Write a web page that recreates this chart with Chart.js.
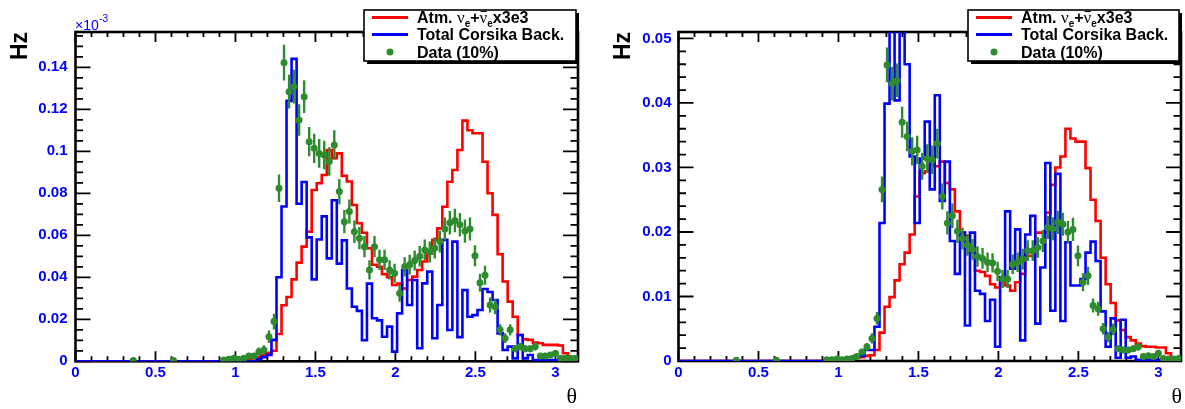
<!DOCTYPE html>
<html>
<head>
<meta charset="utf-8">
<script src="https://cdn.jsdelivr.net/npm/chart.js@4.4.1/dist/chart.umd.min.js"></script>
<style>
  html, body { margin: 0; padding: 0; background: #fff; }
  #wrap { position: relative; width: 1185px; height: 409px; }
  canvas { position: absolute; top: 0; }
</style>
</head>
<body>
<div id="wrap">
  <canvas id="left" width="600" height="409" style="left:0"></canvas>
  <canvas id="right" width="585" height="409" style="left:600px"></canvas>
</div>
<script>
// 100 bins in theta from 0 to pi
const NBINS = 100;
const thetaTicks = [0, 0.5, 1, 1.5, 2, 2.5, 3];
const leftTicks = [0, 0.02, 0.04, 0.06, 0.08, 0.1, 0.12, 0.14];   // x 10^-3 Hz
const rightTicks = [0, 0.01, 0.02, 0.03, 0.04, 0.05];              // Hz

// Left panel, values in units of 10^-3 Hz
const leftAtm = [
  0, 0, 0, 0, 0, 0, 0, 0, 0, 0,
  0, 0, 0, 0, 0, 0, 0, 0, 0, 0,
  0, 0, 0, 0, 0, 0, 0, 0, 0, 0,
  0.0003, 0.0005, 0.0005, 0.0008, 0.001, 0.0015, 0.002, 0.003, 0.004, 0.005,
  0.013, 0.0267, 0.0306, 0.039, 0.047, 0.0546, 0.0617, 0.0816, 0.0848, 0.0887,
  0.1006, 0.0967, 0.099, 0.0883, 0.0856, 0.0744, 0.0657, 0.0612, 0.0538, 0.046,
  0.045, 0.0415, 0.040, 0.0363, 0.037, 0.0347, 0.0387, 0.0403, 0.0435, 0.0475,
  0.0514, 0.0578, 0.0633, 0.0736, 0.0855, 0.0911, 0.1006, 0.1146, 0.110, 0.1086,
  0.1086, 0.095, 0.080, 0.0697, 0.051, 0.038, 0.0284, 0.0212, 0.0125, 0.0105,
  0.0102, 0.0089, 0.0086, 0.0078, 0.0078, 0.0078, 0.0075, 0.0038, 0.0014, 0.0005
];
const leftBack = [
  0, 0, 0, 0, 0, 0, 0, 0, 0, 0,
  0, 0, 0, 0, 0, 0, 0, 0, 0, 0,
  0, 0, 0, 0, 0, 0, 0, 0, 0, 0,
  0, 0, 0, 0, 0, 0, 0.001, 0.002, 0.003, 0.0102,
  0.040, 0.0737, 0.124, 0.144, 0.075, 0.0854, 0.059, 0.039, 0.058, 0.069,
  0.049, 0.0767, 0.0465, 0.0576, 0.0347, 0.026, 0.024, 0.010, 0.037, 0.0205,
  0.0195, 0.0117, 0.0165, 0.0046, 0.0228, 0.0435, 0.0268, 0.0387, 0.0062, 0.0371,
  0.0427, 0.011, 0.0268, 0.0578, 0.0149, 0.057, 0.0115, 0.0339, 0.0212, 0.022,
  0.0244, 0.0344, 0.033, 0.0292, 0.0133, 0.0054, 0.007, 0.0014, 0.0125, 0.0014,
  0.003, 0.0006, 0.0006, 0.0006, 0.0006, 0.0006, 0.0006, 0.0006, 0.0006, 0.0006
];
const leftData = [
  null, null, null, null, null, null, null, null, null, null,
  null, 0.0004, null, null, null, null, null, null, null, 0.0004,
  null, null, null, null, null, null, null, null, null, 0.0006,
  0.001, 0.0015, 0.001, 0.0015, 0.0025, 0.0025, 0.0046, 0.0054, 0.0117, 0.0189,
  0.0824, 0.1422, 0.1284, 0.1308, 0.1149, 0.126, 0.1046, 0.1014, 0.099, 0.0982,
  0.0951, 0.103, 0.0808, 0.0665, 0.0713, 0.0617, 0.0586, 0.0546, 0.0435, 0.0546,
  0.0483, 0.0483, 0.0435, 0.0419, 0.0324, 0.045, 0.046, 0.048, 0.050, 0.053,
  0.052, 0.054, 0.057, 0.063, 0.066, 0.067, 0.065, 0.062, 0.063, 0.0503,
  0.0374, 0.041, 0.0268, 0.026, 0.015, 0.011, 0.015, 0.006, 0.007, 0.006,
  0.006, 0.007, 0.0025, 0.0025, 0.003, 0.0038, 0.0014, 0.0014, 0.0014, 0.0014
];
const leftErr = [
  null, null, null, null, null, null, null, null, null, null,
  null, 0.0006, null, null, null, null, null, null, null, 0.0006,
  null, null, null, null, null, null, null, null, null, 0.0008,
  0.001, 0.0012, 0.001, 0.0012, 0.0015, 0.0015, 0.002, 0.0022, 0.003, 0.0038,
  0.0065, 0.0085, 0.008, 0.008, 0.0075, 0.0078, 0.007, 0.007, 0.0068, 0.0068,
  0.0068, 0.007, 0.006, 0.0055, 0.0058, 0.0054, 0.0053, 0.0051, 0.0046, 0.0051,
  0.0048, 0.0048, 0.0046, 0.0045, 0.004, 0.0046, 0.0047, 0.0048, 0.0049, 0.005,
  0.005, 0.0051, 0.0052, 0.0055, 0.0056, 0.0056, 0.0056, 0.0055, 0.0055, 0.005,
  0.0043, 0.0045, 0.0036, 0.0036, 0.0027, 0.0023, 0.0027, 0.0017, 0.0018, 0.0017,
  0.0017, 0.0018, 0.0011, 0.0011, 0.0012, 0.0013, 0.0008, 0.0008, 0.0008, 0.0008
];

// Right panel, values in Hz
const rightAtm = [
  0, 0, 0, 0, 0, 0, 0, 0, 0, 0,
  0, 0, 0, 0, 0, 0, 0, 0, 0, 0,
  0, 0, 0, 0, 0, 0, 0, 0, 0, 0,
  0.0001, 0.0002, 0.0002, 0.0003, 0.0004, 0.0005, 0.0006, 0.0008, 0.0009, 0.0017,
  0.0044, 0.0084, 0.0099, 0.0125, 0.015, 0.0168, 0.0196, 0.0255, 0.0291, 0.0294,
  0.0304, 0.0302, 0.0309, 0.0276, 0.0266, 0.0232, 0.0199, 0.0194, 0.0168, 0.014,
  0.0138, 0.0132, 0.0119, 0.0114, 0.0122, 0.0117, 0.0109, 0.0122, 0.0135, 0.0163,
  0.0163, 0.0199, 0.0199, 0.023, 0.0273, 0.030, 0.0317, 0.036, 0.0345, 0.034,
  0.034, 0.0299, 0.025, 0.0217, 0.016, 0.0119, 0.009, 0.0063, 0.0048, 0.0037,
  0.0032, 0.0027, 0.0023, 0.0022, 0.0022, 0.0021, 0.0021, 0.0012, 0.0004, 0.0002
];
const rightBack = [
  0, 0, 0, 0, 0, 0, 0, 0, 0, 0,
  0, 0, 0, 0, 0, 0, 0, 0, 0, 0,
  0, 0, 0, 0, 0, 0, 0, 0, 0, 0,
  0, 0, 0, 0, 0.0003, 0.0008, 0.0008, 0.0017, 0.0017, 0.0053,
  0.0214, 0.0399, 0.056, 0.0404, 0.054, 0.046, 0.0317, 0.0214, 0.0314, 0.0371,
  0.0266, 0.0412, 0.0248, 0.0309, 0.0186, 0.0135, 0.0199, 0.0055, 0.0199, 0.0109,
  0.0104, 0.0062, 0.0095, 0.0022, 0.013, 0.0232, 0.0143, 0.0204, 0.0032, 0.0196,
  0.0225, 0.0058, 0.0145, 0.0307, 0.0078, 0.029, 0.0062, 0.0184, 0.0117, 0.0117,
  0.0127, 0.0168, 0.0185, 0.0155, 0.0077, 0.0022, 0.0066, 0.0005, 0.0064, 0.0005,
  0.0007, 0.0002, 0.0002, 0.0002, 0.0002, 0.0002, 0.0002, 0.0002, 0.0002, 0.0002
];
const rightData = [
  null, null, null, null, null, null, null, null, null, null,
  null, 0.0001, null, null, null, null, null, null, null, 0.0001,
  null, null, null, null, null, null, null, null, null, 0.0002,
  0.0002, 0.0003, 0.0002, 0.0003, 0.0004, 0.0007, 0.0014, 0.0022, 0.0035, 0.0066,
  0.0266, 0.0459, 0.043, 0.0435, 0.037, 0.0348, 0.0325, 0.0327, 0.0302, 0.0314,
  0.0312, 0.0337, 0.0255, 0.0214, 0.0225, 0.0201, 0.019, 0.018, 0.0173, 0.0162,
  0.0159, 0.0153, 0.0152, 0.0139, 0.0127, 0.0127, 0.015, 0.0153, 0.0158, 0.0171,
  0.0171, 0.0176, 0.0186, 0.0207, 0.0205, 0.0215, 0.0212, 0.020, 0.0204, 0.0163,
  0.0122, 0.0132, 0.0086, 0.0081, 0.005, 0.0037, 0.0049, 0.0019, 0.0017, 0.0017,
  0.0019, 0.0022, 0.0007, 0.0008, 0.0007, 0.0012, 0.0004, 0.0003, 0.0003, 0.0004
];
const rightErr = [
  null, null, null, null, null, null, null, null, null, null,
  null, 0.0002, null, null, null, null, null, null, null, 0.0002,
  null, null, null, null, null, null, null, null, null, 0.0002,
  0.0002, 0.0003, 0.0002, 0.0003, 0.0003, 0.0004, 0.0005, 0.0006, 0.0008, 0.001,
  0.002, 0.0027, 0.0026, 0.0026, 0.0024, 0.0023, 0.0022, 0.0022, 0.0021, 0.0022,
  0.0022, 0.0023, 0.002, 0.0018, 0.0019, 0.0018, 0.0017, 0.0017, 0.0016, 0.0016,
  0.0016, 0.0015, 0.0015, 0.0015, 0.0014, 0.0014, 0.0015, 0.0015, 0.0016, 0.0016,
  0.0016, 0.0016, 0.0017, 0.0018, 0.0018, 0.0018, 0.0018, 0.0017, 0.0018, 0.0016,
  0.0014, 0.0014, 0.0011, 0.0011, 0.0009, 0.0008, 0.0009, 0.0005, 0.0005, 0.0005,
  0.0005, 0.0006, 0.0003, 0.0003, 0.0003, 0.0004, 0.0002, 0.0002, 0.0002, 0.0002
];

const legendTexts = ['Total Corsika Back.', 'Data (10%)'];

const RED = '#ff0000', BLUE = '#0000ff', GREEN = '#2e8b2e';
const SANS = "'Liberation Sans', Arial, Helvetica, sans-serif";
const SERIF = "'Liberation Serif', 'Times New Roman', serif";

const edges = Array.from({ length: NBINS + 1 }, (_, i) => i * Math.PI / NBINS);
const stepPoints = (vals) => edges.map((x, i) => ({ x, y: vals[Math.min(i, NBINS - 1)] }));
const dataPoints = (vals, errs) => vals
  .map((y, i) => ({ x: (edges[i] + edges[i + 1]) / 2, y, e: errs[i] }))
  .filter(p => p.y !== null);

const fmt = (v) => String(+v.toFixed(3));

// ROOT-like frame with ticks on all four sides
const rootFrame = {
  id: 'rootFrame',
  beforeDatasetsDraw(chart, args, opts) {
    const { ctx, chartArea: a, scales: { x, y } } = chart;
    ctx.save();
    ctx.strokeStyle = '#000';
    ctx.lineWidth = 1.8;
    ctx.beginPath();
    const nx = Math.floor(Math.PI / 0.1 + 1e-9);
    for (let k = 0; k <= nx; k++) {
      const px = x.getPixelForValue(k * 0.1);
      const len = k % 5 === 0 ? 10 : 5;
      ctx.moveTo(px, a.bottom); ctx.lineTo(px, a.bottom - len);
      ctx.moveTo(px, a.top); ctx.lineTo(px, a.top + len);
    }
    const ny = Math.floor(y.max / opts.yMinor + 1e-9);
    for (let k = 0; k <= ny; k++) {
      const py = y.getPixelForValue(k * opts.yMinor);
      const len = k % opts.perMajor === 0 ? 15 : 7.5;
      ctx.moveTo(a.left, py); ctx.lineTo(a.left + len, py);
      ctx.moveTo(a.right, py); ctx.lineTo(a.right - len, py);
    }
    ctx.stroke();
    ctx.lineWidth = 2.6;
    ctx.strokeRect(a.left, a.top, a.right - a.left, a.bottom - a.top);
    ctx.restore();
  }
};

// vertical error bars for the data points
const errorBars = {
  id: 'errorBars',
  afterDatasetsDraw(chart) {
    const { ctx, chartArea: a, scales: { x, y } } = chart;
    chart.data.datasets.forEach(ds => {
      if (!ds.withErrors) return;
      ctx.save();
      ctx.beginPath();
      ctx.rect(a.left, a.top, a.right - a.left, a.bottom - a.top);
      ctx.clip();
      ctx.strokeStyle = ds.borderColor;
      ctx.lineWidth = 2.4;
      ctx.beginPath();
      ds.data.forEach(p => {
        const px = x.getPixelForValue(p.x);
        ctx.moveTo(px, y.getPixelForValue(p.y - p.e));
        ctx.lineTo(px, y.getPixelForValue(p.y + p.e));
      });
      ctx.stroke();
      ctx.restore();
    });
  }
};

// legend box with shadow, axis titles, exponent
const rootLegend = {
  id: 'rootLegend',
  afterDraw(chart, args, o) {
    const { ctx } = chart;
    const b = o.box;
    ctx.save();
    ctx.fillStyle = '#000';
    ctx.fillRect(b.x + 3, b.y + 3, b.w, b.h);
    ctx.fillStyle = '#fff';
    ctx.fillRect(b.x, b.y, b.w, b.h);
    ctx.strokeStyle = '#000';
    ctx.lineWidth = 1.6;
    ctx.strokeRect(b.x, b.y, b.w, b.h);

    const rows = [b.y + 7.5, b.y + 24.5, b.y + 42];
    const tx0 = b.x + 53;
    ctx.lineWidth = 2.8;
    ctx.strokeStyle = RED;
    ctx.beginPath(); ctx.moveTo(b.x + 8, rows[0]); ctx.lineTo(b.x + 44, rows[0]); ctx.stroke();
    ctx.strokeStyle = BLUE;
    ctx.beginPath(); ctx.moveTo(b.x + 8, rows[1]); ctx.lineTo(b.x + 44, rows[1]); ctx.stroke();
    ctx.fillStyle = GREEN;
    ctx.beginPath(); ctx.arc(b.x + 26, rows[2], 3.5, 0, Math.PI * 2); ctx.fill();

    ctx.fillStyle = '#000';
    ctx.textBaseline = 'alphabetic';
    const big = `bold 16px ${SANS}`, sub = `bold 10px ${SANS}`, nu = `17px ${SERIF}`;
    let tx = tx0, base = rows[0] + 5.5;
    const put = (s, font, dy = 0) => { ctx.font = font; ctx.fillText(s, tx, base + dy); const w = ctx.measureText(s).width; tx += w; return w; };
    put('Atm. ', big);
    put('\u03bd', nu);
    put('e', sub, 3.5);
    put('+', big);
    const nx = tx;
    const nw = put('\u03bd', nu);
    ctx.lineWidth = 1;
    ctx.strokeStyle = '#000';
    ctx.beginPath(); ctx.moveTo(nx + 1, base - 11.5); ctx.lineTo(nx + nw - 0.5, base - 11.5); ctx.stroke();
    put('e', sub, 3.5);
    put('x3e3', big);
    ctx.font = big;
    ctx.fillText(legendTexts[0], tx0, rows[1] + 5.5);
    ctx.fillText(legendTexts[1], tx0, rows[2] + 5.5);

    // "Hz" rotated
    ctx.save();
    ctx.translate(o.hz.x, o.hz.y);
    ctx.rotate(-Math.PI / 2);
    ctx.font = `bold 23px ${SANS}`;
    ctx.textAlign = 'center';
    ctx.fillText('Hz', 0, 0);
    ctx.restore();

    // theta
    ctx.font = `22px ${SERIF}`;
    ctx.textAlign = 'right';
    ctx.fillText('\u03b8', o.theta.x, o.theta.y);

    if (o.exponent) {
      ctx.textAlign = 'left';
      ctx.fillStyle = BLUE;
      ctx.font = `14px ${SANS}`;
      ctx.fillText('\u00d710', o.exponent.x, o.exponent.y);
      const w = ctx.measureText('\u00d710').width;
      ctx.font = `10px ${SANS}`;
      ctx.fillText('-3', o.exponent.x + w + 0.5, o.exponent.y - 8);
    }
    ctx.restore();
  }
};

function makeChart(id, cfg) {
  const tickFont = { family: SANS, size: 15, weight: 'bold' };
  return new Chart(document.getElementById(id), {
    type: 'line',
    data: {
      datasets: [
        { data: dataPoints(cfg.data, cfg.err), showLine: false, pointRadius: 3.5, pointHoverRadius: 3.5,
          pointBackgroundColor: GREEN, pointBorderWidth: 0, borderColor: GREEN, withErrors: true, order: 0 },
        { data: stepPoints(cfg.back), borderColor: BLUE, borderWidth: 2.6, pointRadius: 0, stepped: 'before', fill: false, order: 1 },
        { data: stepPoints(cfg.atm), borderColor: RED, borderWidth: 2.6, pointRadius: 0, stepped: 'before', fill: false, order: 2 }
      ]
    },
    options: {
      responsive: false,
      animation: false,
      events: [],
      layout: { padding: { left: 0, right: cfg.padRight, top: 32, bottom: 0 } },
      scales: {
        x: {
          type: 'linear', min: 0, max: Math.PI,
          grid: { display: false, drawTicks: false },
          border: { display: false },
          afterBuildTicks: (s) => { s.ticks = thetaTicks.map(v => ({ value: v })); },
          afterFit: (s) => { s.height = cfg.xHeight; },
          ticks: { color: BLUE, font: tickFont, padding: 3, autoSkip: false, maxRotation: 0, callback: fmt }
        },
        y: {
          type: 'linear', min: 0, max: cfg.yMax,
          grid: { display: false, drawTicks: false },
          border: { display: false },
          afterBuildTicks: (s) => { s.ticks = cfg.yTicks.map(v => ({ value: v })); },
          afterFit: (s) => { s.width = cfg.yWidth; },
          ticks: { color: BLUE, font: tickFont, padding: cfg.yPad, callback: fmt }
        }
      },
      plugins: {
        legend: { display: false },
        tooltip: { enabled: false },
        rootFrame: { yMinor: cfg.yMinor, perMajor: cfg.perMajor },
        rootLegend: cfg.legend
      }
    },
    plugins: [rootFrame, errorBars, rootLegend]
  });
}

makeChart('left', {
  atm: leftAtm, back: leftBack, data: leftData, err: leftErr,
  yMax: 0.1568, yTicks: leftTicks, yMinor: 0.005, perMajor: 4,
  yWidth: 75.5, yPad: 8, padRight: 22, xHeight: 47.7,
  legend: { box: { x: 364, y: 10, w: 212, h: 51 }, hz: { x: 26.5, y: 46 }, theta: { x: 577, y: 403 }, exponent: { x: 75, y: 30 } }
});

makeChart('right', {
  atm: rightAtm, back: rightBack, data: rightData, err: rightErr,
  yMax: 0.051, yTicks: rightTicks, yMinor: 0.002, perMajor: 5,
  yWidth: 78.5, yPad: 7, padRight: 4, xHeight: 48,
  legend: { box: { x: 368, y: 10, w: 211, h: 51 }, hz: { x: 29.5, y: 46 }, theta: { x: 582, y: 403 } }
});
</script>
</body>
</html>
